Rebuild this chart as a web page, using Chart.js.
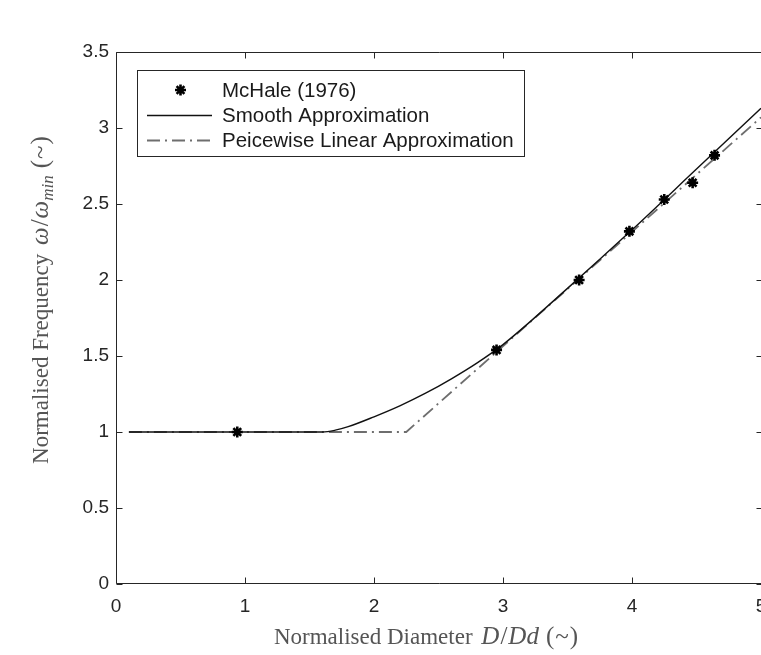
<!DOCTYPE html>
<html>
<head>
<meta charset="utf-8">
<script src="https://cdn.jsdelivr.net/npm/chart.js@4.4.1/dist/chart.umd.min.js"></script>
<style>
  html, body { margin: 0; padding: 0; background: #fff; }
  #wrap { width: 761px; height: 655px; }
</style>
</head>
<body>
<div id="wrap"><canvas id="c" width="761" height="655"></canvas></div>
<script>
// McHale (1976) measurements
const mchaleD = [0.94, 2.95, 3.59, 3.98, 4.25, 4.47, 4.64];
const mchaleW = [1.00, 1.54, 2.00, 2.32, 2.53, 2.64, 2.82];

// Smooth approximation
const smoothD = [0.1, 0.5, 1.0, 1.4, 1.6, 1.7, 1.8, 2.0, 2.2, 2.4, 2.6, 2.8, 3.0, 3.5, 4.0, 4.5, 5.0];
const smoothW = [1.0, 1.0, 1.0, 1.0, 1.0, 1.012, 1.035, 1.1, 1.172, 1.255, 1.35, 1.455, 1.575, 1.945, 2.33, 2.73, 3.13];

// Piecewise linear approximation
const linearD = [0.1, 2.25, 5.0];
const linearW = [1.0, 1.0, 3.07];

// Axis ticks
const xTicks = [0, 1, 2, 3, 4, 5];
const yTicks = [0, 0.5, 1, 1.5, 2, 2.5, 3, 3.5];

const seriesNames = ['McHale (1976)', 'Smooth Approximation', 'Peicewise Linear Approximation'];

const pts = (xs, ys) => xs.map((x, i) => ({ x: x, y: ys[i] }));

const AXIS_COLOR = '#262626';
const TITLE_COLOR = '#555555';
const SANS = '"Liberation Sans", Arial, Helvetica, sans-serif';
const SERIF = '"Liberation Serif", "DejaVu Serif", "Times New Roman", serif';
const DASHDOT = [13, 5, 2, 5];

// Box around the axes with inward ticks on all four sides
const framePlugin = {
  id: 'frame',
  afterDatasetsDraw(chart) {
    const { ctx, chartArea: a, scales } = chart;
    const L = Math.round(a.left) + 0.5, R = Math.round(a.right) - 0.5;
    const T = Math.round(a.top) + 0.5, B = Math.round(a.bottom) - 0.5;
    const tl = 6;
    ctx.save();
    ctx.strokeStyle = AXIS_COLOR;
    ctx.lineWidth = 1;
    ctx.beginPath();
    ctx.moveTo(R + 2, T); ctx.lineTo(L, T); ctx.lineTo(L, B); ctx.lineTo(R + 2, B);
    xTicks.forEach(v => {
      const px = Math.round(scales.x.getPixelForValue(v)) + 0.5;
      ctx.moveTo(px, B); ctx.lineTo(px, B - tl);
      ctx.moveTo(px, T); ctx.lineTo(px, T + tl);
    });
    yTicks.forEach(v => {
      const py = Math.round(scales.y.getPixelForValue(v)) + 0.5;
      ctx.moveTo(L, py); ctx.lineTo(L + tl, py);
      ctx.moveTo(R + 2, py); ctx.lineTo(R + 2 - tl, py);
    });
    ctx.stroke();
    ctx.restore();
  }
};

// Axis titles with math-style italic parts, a subscript and math spacing
function drawRich(ctx, segs, cx, cy, angle, color) {
  ctx.save();
  ctx.translate(cx, cy);
  ctx.rotate(angle);
  let total = 0;
  segs.forEach(s => {
    if (s.gap) { s.w = s.gap; } else { ctx.font = s.font; s.w = ctx.measureText(s.text).width; }
    total += s.w;
  });
  let x = -total / 2;
  ctx.fillStyle = color;
  ctx.textBaseline = 'alphabetic';
  ctx.textAlign = 'left';
  segs.forEach(s => {
    if (!s.gap) {
      ctx.font = s.font;
      ctx.fillText(s.text, x, 8 + (s.dy || 0));
    }
    x += s.w;
  });
  ctx.restore();
}

const titlePlugin = {
  id: 'axisTitles',
  afterDraw(chart) {
    const ctx = chart.ctx;
    const up = '23px ' + SERIF, mu = '25px ' + SERIF, it = 'italic 25px ' + SERIF, sub = 'italic 17px ' + SERIF;
    drawRich(ctx, [
      { text: 'Normalised Diameter ', font: up },
      { gap: 3 },
      { text: 'D', font: it },
      { gap: 1 },
      { text: '/', font: mu },
      { gap: 1 },
      { text: 'Dd', font: it },
      { gap: 7 },
      { text: '(', font: mu },
      { gap: 1 },
      { text: '~', font: mu },
      { gap: 1 },
      { text: ')', font: mu }
    ], 426, 636, 0, TITLE_COLOR);
    drawRich(ctx, [
      { text: 'Normalised Frequency ', font: up },
      { gap: 3 },
      { text: '\u03C9', font: it },
      { gap: 1 },
      { text: '/', font: mu },
      { gap: 1 },
      { text: '\u03C9', font: it },
      { text: 'min', font: sub, dy: 5 },
      { gap: 7 },
      { text: '(', font: mu },
      { gap: 1 },
      { text: '~', font: mu },
      { gap: 1 },
      { text: ')', font: mu }
    ], 40, 300, -Math.PI / 2, TITLE_COLOR);
  }
};

// Boxed legend in the upper-left corner of the axes
const legendPlugin = {
  id: 'boxLegend',
  afterDatasetsDraw(chart) {
    const ctx = chart.ctx;
    const bx = 137.5, by = 70.5, bw = 387, bh = 86;
    ctx.save();
    ctx.fillStyle = '#ffffff';
    ctx.fillRect(bx, by, bw, bh);
    ctx.strokeStyle = AXIS_COLOR;
    ctx.lineWidth = 1;
    ctx.strokeRect(bx, by, bw, bh);
    const rows = [90, 115, 140];
    const x0 = 147, x1 = 212, tx = 222;
    const ds = chart.data.datasets;
    // marker sample
    ctx.strokeStyle = ds[0].borderColor;
    ctx.fillStyle = ds[0].backgroundColor;
    ctx.lineWidth = ds[0].borderWidth;
    Chart.helpers.drawPoint(ctx, { pointStyle: ds[0].pointStyle, radius: ds[0].pointRadius, borderWidth: ds[0].borderWidth, rotation: 0 }, (x0 + x1) / 2 + 1, rows[0]);
    // line samples
    [1, 2].forEach(i => {
      ctx.beginPath();
      ctx.strokeStyle = ds[i].borderColor;
      ctx.lineWidth = ds[i].borderWidth;
      ctx.setLineDash(ds[i].borderDash || []);
      ctx.moveTo(x0, rows[i] + 0.5);
      ctx.lineTo(x1, rows[i] + 0.5);
      ctx.stroke();
    });
    ctx.setLineDash([]);
    ctx.fillStyle = '#1a1a1a';
    ctx.font = '20.5px ' + SANS;
    ctx.textBaseline = 'middle';
    ctx.textAlign = 'left';
    seriesNames.forEach((t, i) => ctx.fillText(t, tx, rows[i] + 1));
    ctx.restore();
  }
};

new Chart(document.getElementById('c'), {
  type: 'scatter',
  data: {
    datasets: [
      {
        label: seriesNames[0],
        data: pts(mchaleD, mchaleW),
        showLine: false,
        pointStyle: 'star',
        pointRadius: 5.5,
        borderColor: '#000000',
        backgroundColor: '#000000',
        borderWidth: 2.6
      },
      {
        label: seriesNames[1],
        data: pts(smoothD, smoothW),
        showLine: true,
        cubicInterpolationMode: 'monotone',
        pointRadius: 0,
        borderColor: '#111111',
        borderWidth: 1.4,
        fill: false
      },
      {
        label: seriesNames[2],
        data: pts(linearD, linearW),
        showLine: true,
        pointRadius: 0,
        borderColor: '#6e6e6e',
        borderWidth: 1.8,
        borderDash: DASHDOT,
        fill: false
      }
    ]
  },
  options: {
    responsive: false,
    animation: false,
    devicePixelRatio: 1,
    layout: { autoPadding: false, padding: { top: 52, left: 0, right: 0, bottom: 0 } },
    plugins: { legend: { display: false }, tooltip: { enabled: false } },
    scales: {
      x: {
        type: 'linear',
        min: 0, max: 5,
        afterBuildTicks: s => { s.ticks = xTicks.map(v => ({ value: v })); },
        grid: { display: false, drawTicks: false },
        border: { display: false },
        ticks: { color: AXIS_COLOR, font: { family: SANS, size: 19 }, padding: 11, maxRotation: 0, callback: v => String(v) },
        afterFit: s => { s.height = 71; s.paddingLeft = 0; s.paddingRight = 0; }
      },
      y: {
        type: 'linear',
        min: 0, max: 3.5,
        afterBuildTicks: s => { s.ticks = yTicks.map(v => ({ value: v })); },
        grid: { display: false, drawTicks: false },
        border: { display: false },
        ticks: { color: AXIS_COLOR, font: { family: SANS, size: 19 }, padding: 7, callback: v => String(v) },
        afterFit: s => { s.width = 116; s.paddingTop = 0; s.paddingBottom = 0; }
      }
    }
  },
  plugins: [framePlugin, legendPlugin, titlePlugin]
});
</script>
</body>
</html>
